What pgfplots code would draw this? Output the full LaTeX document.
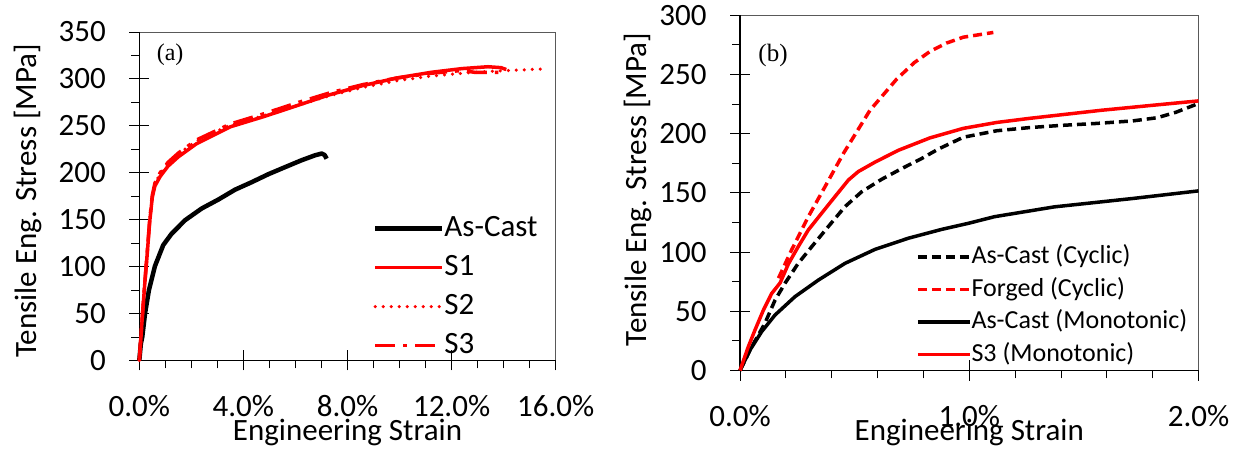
\documentclass[border=0pt]{standalone}
\usepackage{fontspec}
\setmainfont{Carlito}
\newfontfamily\timesf{Liberation Serif}
\usepackage{pgfplots}
\pgfplotsset{compat=1.18}
\definecolor{myred}{RGB}{255,0,0}
\pgfplotsset{
  common/.style={
    scale only axis,
    /pgf/number format/assume math mode=true,
    tick pos=left,
    tick align=center,
    major tick length=20pt,
    minor tick length=8pt,
    minor x tick style={yshift=-4pt},
    minor y tick style={xshift=-4pt},
    every tick/.style={black, line width=0.9pt},
    axis line style={draw=black!65, line width=0.9pt},
    tick label style={font=\fontsize{31}{31}\selectfont},
    xticklabel style={yshift=-21pt},
    yticklabel style={xshift=-20pt},
    label style={font=\fontsize{31}{31}\selectfont},
    clip=false,
    legend cell align=left,
  },
}
\begin{document}
\begin{tikzpicture}
\useasboundingbox (0,0) rectangle (1239pt,452pt);
% ---------------- (a) ----------------
\begin{axis}[common,
  at={(139.3pt,91.5pt)}, anchor=south west,
  width=416.4pt, height=328.5pt,
  xmin=0, xmax=16, ymin=0, ymax=350,
  xtick={0,4,8,12,16}, minor x tick num=3,
  ytick={0,50,...,350}, minor y tick num=1,
  xticklabel={\pgfmathprintnumber[fixed,fixed zerofill,precision=1]{\tick}\%},
  xlabel={Engineering Strain},
  ylabel={Tensile Eng. Stress [MPa]},
  xlabel style={at={(axis description cs:0.5,-0.245)}, anchor=base},
  ylabel style={at={(axis description cs:-0.2474,0.486)}, anchor=base},
  legend style={draw=none, fill=none, inner sep=0pt, outer sep=0pt,
    at={(axis description cs:0.5612,0.4438)}, anchor=north west,
    font=\fontsize{31}{31}\selectfont, row sep=11pt,
    nodes={inner sep=0pt, text height=22pt, text depth=6pt},
    /tikz/every even column/.append style={column sep=9pt}},
  legend image code/.code={\draw[#1] (0pt,0pt) -- (67pt,0pt);},
]
\draw[black, line width=1.1pt] (rel axis cs:0,1) -- (rel axis cs:0,0) -- (rel axis cs:1,0);
\addplot[black, line width=4.5pt, line join=round] coordinates {
(0,0) (0.06,18) (0.115,25.2) (0.22,50) (0.37,75) (0.6,100.5) (0.92,123) (1.24,135) (1.76,149.5)
(2.4,162) (3.04,171.5) (3.68,182) (4.32,190) (4.96,198.5) (5.6,206) (6.24,213.4) (6.76,218.7)
(7.01,220.5) (7.12,219) (7.2,215)};
\addlegendentry{As-Cast}
\addplot[myred, line width=3.5pt, line join=round] coordinates {
(0,0) (0.1,40) (0.2,78) (0.3,112) (0.4,148) (0.5,174) (0.6,186) (0.8,196) (1.1,207) (1.5,217)
(2.2,231) (3.5,249) (4.8,260) (6.0,271) (7.3,283) (8.6,293) (9.9,301) (11.2,307) (12.4,311)
(13.4,313) (13.9,312) (14.1,310)};
\addlegendentry{S1}
\addplot[myred, line width=3.5pt, line cap=round, dash pattern=on 0pt off 8pt] coordinates {
(0,0) (0.1,40) (0.2,80) (0.3,115) (0.4,150) (0.5,177) (0.6,188) (0.8,199) (1.1,210) (1.5,220)
(2.2,234) (3.5,251) (4.8,261) (6.0,271) (7.3,282) (8.6,291) (9.9,298) (11.2,303) (12.4,306)
(13.4,308) (14.6,309.5) (15.5,310.6)};
\addlegendentry{S2}
\addplot[myred, line width=3.5pt, dash pattern=on 20pt off 8pt on 4pt off 8pt] coordinates {
(0,0) (0.1,41) (0.2,79) (0.3,114) (0.4,150) (0.5,176) (0.6,189) (0.8,200) (1.1,211) (1.5,221)
(2.2,235) (3.5,252) (4.8,263) (6.0,274) (7.3,285) (8.6,294) (9.9,301) (11.2,306) (12.4,309)
(12.9,307) (13.8,307)};
\addlegendentry{S3}
\node[font=\timesf\fontsize{24}{24}\selectfont] at (axis description cs:0.074,0.93) {(a)};
\end{axis}
% ---------------- (b) ----------------
\begin{axis}[common,
  at={(740pt,81.5pt)}, anchor=south west,
  width=458.5pt, height=355.2pt,
  xmin=0, xmax=2, ymin=0, ymax=300,
  xtick={0,1,2}, minor x tick num=4,
  ytick={0,50,...,300}, minor y tick num=1,
  xticklabel={\pgfmathprintnumber[fixed,fixed zerofill,precision=1]{\tick}\%},
  xlabel={Engineering Strain},
  ylabel={Tensile Eng. Stress [MPa]},
  xlabel style={at={(axis description cs:0.5,-0.1976)}, anchor=base},
  ylabel style={at={(axis description cs:-0.2035,0.5096)}, anchor=base},
  legend style={draw=none, fill=none, inner sep=0pt, outer sep=0pt,
    at={(axis description cs:0.3839,0.3547)}, anchor=north west,
    font=\fontsize{26}{26}\selectfont, row sep=7.5pt,
    nodes={inner sep=0pt, text height=19pt, text depth=6pt},
    /tikz/every even column/.append style={column sep=5pt}},
  legend image code/.code={\draw[#1] (0pt,0pt) -- (52pt,0pt);},
]
\draw[black, line width=1.1pt] (rel axis cs:0,1) -- (rel axis cs:0,0) -- (rel axis cs:1,0);
\addplot[black, line width=3.5pt, dash pattern=on 9pt off 5pt] coordinates {
(0,0) (0.051,20) (0.109,40) (0.153,59.5) (0.196,73.6) (0.254,90.5) (0.313,104.6) (0.385,121.5)
(0.458,138.4) (0.531,151) (0.618,161.5) (0.705,170.5) (0.792,179) (0.865,187) (0.974,197)
(1.12,202.5) (1.265,205.2) (1.4,207) (1.55,208.6) (1.713,210.8) (1.82,213.5) (1.9,218) (2.0,225.5)};
\addlegendentry{As-Cast (Cyclic)}
\addplot[myred, line width=3.5pt, dash pattern=on 9pt off 5pt] coordinates {
(0.168,78) (0.225,101.8) (0.298,129.9) (0.371,155.3) (0.451,183.3) (0.567,219.8) (0.683,246)
(0.76,260) (0.829,269.5) (0.9,276.5) (0.974,281.5) (1.105,285.5)};
\addlegendentry{Forged (Cyclic)}
\addplot[black, line width=3.5pt, line join=round] coordinates {
(0,0) (0.0436,17.3) (0.0945,32.8) (0.153,46.9) (0.24,62.4) (0.342,76.4) (0.458,90.5) (0.589,102.3)
(0.734,111.7) (0.88,119.2) (0.996,124.3) (1.11,129.9) (1.371,138.2) (1.714,145.3) (2.0,151.7)};
\addlegendentry{As-Cast (Monotonic)}
\addplot[myred, line width=3.5pt, line join=round] coordinates {
(0,0) (0.036,20) (0.065,34) (0.102,51) (0.138,65) (0.175,74) (0.211,90) (0.254,104.6) (0.298,118.7)
(0.356,132.8) (0.414,146.8) (0.473,160.9) (0.516,168) (0.589,176) (0.691,186) (0.829,196.5)
(0.974,204.5) (1.12,209.5) (1.265,213) (1.577,219.8) (1.8,224) (2.0,227.7)};
\addlegendentry{S3 (Monotonic)}
\node[font=\timesf\fontsize{25}{25}\selectfont] at (axis description cs:0.072,0.888) {(b)};
\end{axis}
\end{tikzpicture}
\end{document}
